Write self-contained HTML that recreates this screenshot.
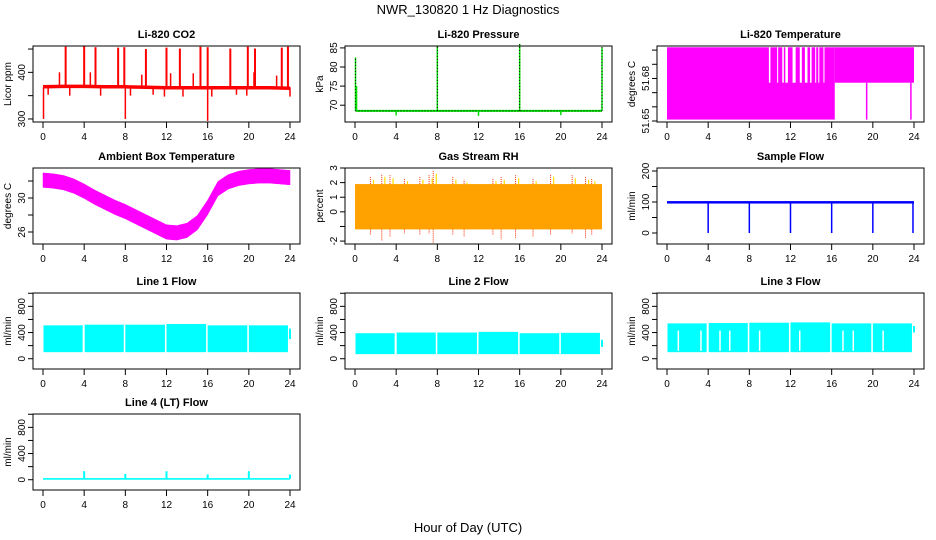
<!DOCTYPE html>
<html><head><meta charset="utf-8"><style>
html,body{margin:0;padding:0;background:#fff;}
svg{display:block;font-family:"Liberation Sans",sans-serif;}
</style></head><body>
<svg id="chart" width="936" height="540" viewBox="0 0 936 540">
<text x="468" y="14" text-anchor="middle" font-size="13">NWR_130820  1 Hz Diagnostics</text>
<text x="468" y="532" text-anchor="middle" font-size="13">Hour of Day (UTC)</text>
</svg>
<script>
// ---- data ----
const xTicks=[0,4,8,12,16,20,24];
const co2BaseHours=[0,2,4,6,8,10,12,14,16,18,20,22,24];
const co2BaseVals=[369,370,370,369,369,368,367,367,367,367,367,367,366];
const co2SpikeHours=[2.2,4.0,5.1,7.3,7.9,10.0,12.0,13.3,15.3,16.0,18.2,19.9,20.6,23.2,23.8];
const co2SpikeVals=[455,457,454,453,454,450,453,451,455,454,451,455,451,453,455];
const co2BumpHours=[1.6,4.6,9.6,12.4,14.6,20.5,22.7];
const co2BumpVals=[400,400,395,398,398,400,393];
const co2DipHours=[0.05,0.5,2.6,5.6,8.0,8.5,10.7,11.8,13.6,16.0,16.4,18.8,19.8,24.0];
const co2DipVals=[300,352,350,350,300,350,352,348,348,296,348,352,350,348];
const presBase=68.5;
const presSpikeHours=[0.05,8.0,16.0,24.0];
const presSpikeVals=[82.5,85.5,86.0,85.2];
const presDipHours=[4,12,20];
const presDipVals=[67.3,67.2,67.4];
const tempLevels=[51.651,51.677,51.702];
const tempFullStart=0, tempFullEnd=16.3;
const tempGapHours=[9.9,10.7,11.2,11.5,12.2,12.9,13.4,13.9,14.4,14.7,15.2];
const tempGapWidths=[0.15,0.1,0.15,0.25,0.3,0.2,0.25,0.15,0.1,0.1,0.1];
const tempLowHours=[19.4,23.7];
const ambHours=[0,1,2,3,4,5,6,7,8,9,10,11,12,13,14,15,16,17,18,19,20,21,22,23,24];
const ambVals=[32.1,32.0,31.8,31.4,30.8,30.1,29.5,28.9,28.4,27.8,27.2,26.6,26.0,25.9,26.2,27.1,28.9,31.1,31.9,32.3,32.5,32.6,32.6,32.5,32.4];
const ambHalf=0.85;
const rhLow=-1.2, rhHigh=1.9;
const rhSpikeHours=[1.5,2.6,3.4,4.8,6.3,7.2,7.6,9.5,10.6,13.4,14.2,15.6,17.3,19.0,21.1,22.4,23.0];
const rhSpikeTops=[2.4,2.6,2.5,2.3,2.4,2.5,2.8,2.4,2.2,2.3,2.4,2.5,2.3,2.6,2.5,2.4,2.3];
const rhSpikeBots=[-1.6,-2.0,-1.7,-1.5,-1.6,-1.5,-2.2,-1.6,-1.7,-1.6,-1.9,-1.8,-1.7,-1.6,-1.5,-1.8,-1.6];
const sfBase=100;
const sfDipHours=[4,8,12,16,20,23.9];
const sfDipVals=[0,0,0,0,0,0];
const segStarts=[0.05,4.05,8.0,12.0,16.0,20.0];
const segEnds=[3.85,7.85,11.85,15.85,19.85,23.8];
const l1High=[510,520,520,530,510,510], l1Low=100;
const l2High=[390,400,400,410,390,395], l2Low=70;
const l3High=[540,545,550,555,540,540], l3Low=100;
const l3GapHours=[1.1,3.3,5.15,6.1,9.0,12.9,17.1,18.1,21.0];
const l3GapTop=430;
const l4Base=15;
const l4SpikeHours=[4,8,12,16,20,24];
const l4SpikeVals=[130,90,130,80,130,80];

// ---- layout ----
const NS="http://www.w3.org/2000/svg";
const svg=document.getElementById('chart');
function el(tag,attrs,parent){const e=document.createElementNS(NS,tag);for(const k in attrs)e.setAttribute(k,attrs[k]);(parent||svg).appendChild(e);return e;}
const colX=[33,345,657], rowY=[46,168,293,414], W=267,H=76;
function panel(col,row,title,ylab,ymin,ymax,ticks,labels,name){
  const bx=colX[col],by=rowY[row];
  const g=el('g',{});
  
  
  const X=h=>bx+10+h*(W-20)/24;
  const Y=v=>by+H-(v-ymin)/(ymax-ymin)*H;
  const t=el('text',{x:bx+W/2,y:by-8,'text-anchor':'middle','font-size':'11','font-weight':'bold'},g);
  t.textContent=title;
  
  
  const yl=el('text',{transform:`translate(${bx-22},${by+H/2}) rotate(-90)`,'text-anchor':'middle','font-size':'10'},g);
  yl.textContent=ylab;
  
  
  ticks.forEach((v,i)=>{
    el('line',{x1:bx-5,x2:bx,y1:Y(v),y2:Y(v),stroke:'#000'},g);
    if(labels[i]!==''){const tl=el('text',{transform:`translate(${bx-8},${Y(v)}) rotate(-90)`,'text-anchor':'middle','font-size':'10'},g);tl.textContent=labels[i];
    
    }
  });
  xTicks.forEach(h=>{
    el('line',{x1:X(h),x2:X(h),y1:by+H,y2:by+H+6,stroke:'#000'},g);
    const xl=el('text',{x:X(h),y:by+H+18,'text-anchor':'middle','font-size':'10'},g);xl.textContent=h;
    
    
  });
  const plot=el('g',{},g);
  
  
  setTimeout(()=>el('rect',{x:bx,y:by,width:W,height:H,fill:'none',stroke:'#000'},g),0);
  return {X,Y,plot};
}
function vline(p,h,v1,v2,c,w,extra){const a={x1:p.X(h),x2:p.X(h),y1:p.Y(v1),y2:p.Y(v2),stroke:c,'stroke-width':w||1.5};Object.assign(a,extra||{});return el('line',a,p.plot);}
function band(p,h1,h2,v1,v2,c){return el('rect',{x:p.X(h1),y:p.Y(v2),width:p.X(h2)-p.X(h1),height:p.Y(v1)-p.Y(v2),fill:c},p.plot);}

// CO2
let p=panel(0,0,'Li-820 CO2','Licor ppm',293.5,456.5,[300,350,400,450],['300','','400',''],'co2');
el('polyline',{points:co2BaseHours.map((h,i)=>p.X(h)+','+p.Y(co2BaseVals[i])).join(' '),fill:'none',stroke:'#f00','stroke-width':3.5},p.plot);
co2SpikeHours.forEach((h,i)=>vline(p,h,368,co2SpikeVals[i],'#f00',2));
co2BumpHours.forEach((h,i)=>vline(p,h,368,co2BumpVals[i],'#f00',1.5));
co2DipHours.forEach((h,i)=>vline(p,h,368,co2DipVals[i],'#f00',1.5));

// Pressure
p=panel(1,0,'Li-820 Pressure','kPa',65.6,85.5,[70,75,80,85],['70','75','80','85'],'pressure');
el('line',{x1:p.X(0.05),x2:p.X(24),y1:p.Y(presBase),y2:p.Y(presBase),stroke:'#00e000','stroke-width':2},p.plot);
el('line',{x1:p.X(0.05),x2:p.X(24),y1:p.Y(presBase),y2:p.Y(presBase),stroke:'#000','stroke-width':1,'stroke-dasharray':'1,2'},p.plot);
presSpikeHours.forEach((h,i)=>{vline(p,h,presBase,presSpikeVals[i],'#00e000',1.5);vline(p,h,presBase,presSpikeVals[i],'#000',1,{'stroke-dasharray':'1,2'});});
vline(p,0.15,presBase,75,'#00e000',1.5);
presDipHours.forEach((h,i)=>vline(p,h,presBase,presDipVals[i],'#00e000',1.5));

// Li-820 Temperature
p=panel(2,0,'Li-820 Temperature','degrees C',51.6493,51.7029,[51.65,51.66,51.67,51.68,51.69,51.70],['51.65','','','51.68','',''],'li820-temp');
band(p,tempFullStart,tempFullEnd,tempLevels[0],tempLevels[2],'#ff00ff');
tempGapHours.forEach((h,i)=>band(p,h,h+tempGapWidths[i],tempLevels[1],tempLevels[2]+0.001,'#fff'));
band(p,tempFullEnd,24,tempLevels[1],tempLevels[2],'#ff00ff');
tempLowHours.forEach(h=>vline(p,h,tempLevels[0],tempLevels[1],'#ff00ff',1.5));

// Ambient
p=panel(0,1,'Ambient Box Temperature','degrees C',24.59,33.53,[26,28,30,32],['26','','30',''],'ambient-temp');
el('polygon',{points:ambHours.map((h,i)=>p.X(h)+','+p.Y(ambVals[i]+ambHalf)).concat(ambHours.slice().reverse().map((h,j)=>p.X(h)+','+p.Y(ambVals[ambHours.length-1-j]-ambHalf))).join(' '),fill:'#ff00ff',stroke:'#ff00ff','stroke-width':0.5},p.plot);

// RH
p=panel(1,1,'Gas Stream RH','percent',-2.2,3.0,[-2,-1,0,1,2,3],['-2','','0','1','2','3'],'rh');
band(p,0,24,rhLow,rhHigh,'#ffa200');
rhSpikeHours.forEach((h,i)=>{vline(p,h,rhLow,rhSpikeBots[i],'#ff3000',1,{'stroke-dasharray':'1,1'});vline(p,h,rhHigh,rhSpikeTops[i],'#ff3000',1,{'stroke-dasharray':'1,1'});vline(p,h+0.3,rhHigh,rhSpikeTops[i]-0.2,'#ffe000',1.2);});

// Sample Flow
p=panel(2,1,'Sample Flow','ml/min',-35.5,209.7,[0,50,100,150,200],['0','','100','','200'],'sample-flow');
band(p,0,24,sfBase-5,sfBase+3,'#0000ff');
sfDipHours.forEach((h,i)=>vline(p,h,sfBase,sfDipVals[i],'#0000ff',1.5));

// Line flows
function flow(col,row,title,name,highs,low){
  const q=panel(col,row,title,'ml/min',-157,1004,[0,200,400,600,800,1000],['0','','400','','800',''],name);
  segStarts.forEach((s,i)=>band(q,s,segEnds[i],low,highs[i],'#00ffff'));
  return q;
}
p=flow(0,2,'Line 1 Flow','line1-flow',l1High,l1Low);
vline(p,24,300,460,'#00ffff',2);
p=flow(1,2,'Line 2 Flow','line2-flow',l2High,l2Low);
vline(p,24,180,290,'#00ffff',2);
p=flow(2,2,'Line 3 Flow','line3-flow',l3High,l3Low);
l3GapHours.forEach(h=>vline(p,h,l3Low+20,l3GapTop,'#fff',1.5));
vline(p,24,400,500,'#00ffff',2);
p=panel(0,3,'Line 4 (LT) Flow','ml/min',-157,1004,[0,200,400,600,800,1000],['0','','400','','800',''],'line4-flow');
band(p,0,24,0,l4Base+10,'#00ffff');
l4SpikeHours.forEach((h,i)=>vline(p,h,l4Base,l4SpikeVals[i],'#00ffff',2));
</script>
</body></html>
